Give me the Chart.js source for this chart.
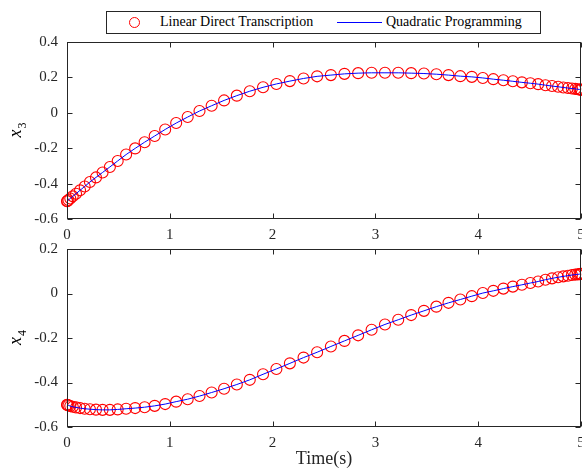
<!DOCTYPE html>
<html>
<head>
<meta charset="utf-8">
<script src="https://cdn.jsdelivr.net/npm/chart.js@4.4.1/dist/chart.umd.min.js"></script>
<style>
  body { margin: 0; background: #fff; }
  #wrap { position: relative; width: 582px; height: 470px; overflow: hidden; font-family: "Liberation Serif", serif; }
  canvas { position: absolute; left: 0; }
  #legend { position: absolute; left: 106px; top: 11px; width: 433px; height: 21px; border: 1px solid #262626; background: #fff; z-index: 5; }
  #legend .mk { position: absolute; left: 22px; top: 5px; width: 9px; height: 9px; border: 1.2px solid #ff0000; border-radius: 50%; }
  #legend .ln { position: absolute; left: 230px; top: 10px; width: 45px; height: 1px; background: #0000ff; }
  #legend .t { position: absolute; top: 2px; font-size: 14px; color: #000; white-space: nowrap; }
</style>
</head>
<body>
<div id="wrap">
  <div id="legend">
    <span class="mk"></span><span class="t" style="left:53px">Linear Direct Transcription</span>
    <span class="ln"></span><span class="t" style="left:279px">Quadratic Programming</span>
  </div>
  <canvas id="top" width="582" height="250" style="top:0;width:582px;height:250px"></canvas>
  <canvas id="bottom" width="582" height="240" style="top:230px;width:582px;height:240px"></canvas>
</div>
<script>
// collocation times (s)
const time = [0, 0.004, 0.014, 0.032, 0.056, 0.088, 0.127, 0.172, 0.223, 0.282,
  0.346, 0.417, 0.493, 0.575, 0.663, 0.755, 0.853, 0.955, 1.062, 1.174,
  1.289, 1.407, 1.528, 1.652, 1.778, 1.907, 2.037, 2.168, 2.301, 2.433,
  2.567, 2.699, 2.832, 2.963, 3.093, 3.222, 3.348, 3.472, 3.593, 3.711,
  3.826, 3.938, 4.045, 4.147, 4.245, 4.337, 4.425, 4.507, 4.583, 4.654,
  4.718, 4.777, 4.828, 4.873, 4.912, 4.944, 4.968, 4.986, 4.996, 5.0];

const x3 = [-0.500, -0.498, -0.493, -0.484, -0.472, -0.457, -0.438, -0.416, -0.391, -0.365,
  -0.337, -0.306, -0.272, -0.236, -0.201, -0.166, -0.131, -0.094, -0.058, -0.024,
  0.010, 0.040, 0.070, 0.097, 0.122, 0.144, 0.163, 0.179, 0.194, 0.206,
  0.213, 0.220, 0.224, 0.226, 0.226, 0.226, 0.224, 0.222, 0.218, 0.213,
  0.207, 0.203, 0.197, 0.190, 0.184, 0.178, 0.172, 0.167, 0.162, 0.156,
  0.151, 0.147, 0.143, 0.140, 0.137, 0.135, 0.133, 0.132, 0.131, 0.130];

const x4 = [-0.500, -0.501, -0.503, -0.506, -0.509, -0.512, -0.515, -0.518, -0.520, -0.522,
  -0.523, -0.523, -0.521, -0.518, -0.515, -0.511, -0.505, -0.497, -0.486, -0.475,
  -0.461, -0.445, -0.428, -0.409, -0.388, -0.363, -0.339, -0.314, -0.288, -0.264,
  -0.238, -0.213, -0.188, -0.163, -0.139, -0.118, -0.097, -0.078, -0.059, -0.042,
  -0.027, -0.012, 0.002, 0.012, 0.022, 0.031, 0.039, 0.047, 0.054, 0.062,
  0.068, 0.073, 0.077, 0.080, 0.083, 0.085, 0.086, 0.087, 0.088, 0.088];

const xTicks = [0, 1, 2, 3, 4, 5];

const axisColor = '#262626';
const tickFont = { family: 'Liberation Serif', size: 15 };

// box + inward tick marks like matlab, plus the rotated y label with subscript
const boxPlugin = {
  id: 'box',
  afterDraw(chart, args, opts) {
    const { ctx, chartArea: a } = chart;
    const xs = chart.scales.x, ys = chart.scales.y;
    const L = Math.round(a.left) + 0.5, R = Math.round(a.right) - 0.5;
    const T = Math.round(a.top) + 0.5, B = Math.round(a.bottom) - 0.5;
    ctx.save();
    ctx.strokeStyle = axisColor;
    ctx.lineWidth = 1;
    ctx.strokeRect(L, T, R - L, B - T);
    ctx.beginPath();
    xs.ticks.forEach(t => {
      const px = Math.round(xs.getPixelForValue(t.value)) + 0.5;
      ctx.moveTo(px, B); ctx.lineTo(px, B - 5);
      ctx.moveTo(px, T); ctx.lineTo(px, T + 5);
    });
    ys.ticks.forEach(t => {
      const py = Math.round(ys.getPixelForValue(t.value)) + 0.5;
      ctx.moveTo(L, py); ctx.lineTo(L + 5, py);
      ctx.moveTo(R, py); ctx.lineTo(R - 5, py);
    });
    ctx.stroke();

    // y label
    const cy = (a.top + a.bottom) / 2;
    ctx.translate(opts.labelX, cy);
    ctx.rotate(-Math.PI / 2);
    ctx.fillStyle = '#000';
    ctx.font = 'italic 18px "Liberation Serif"';
    const w1 = ctx.measureText('x').width;
    ctx.font = '12px "Liberation Serif"';
    const w2 = ctx.measureText(opts.sub).width;
    const x0 = -(w1 + w2) / 2;
    ctx.textBaseline = 'alphabetic';
    ctx.font = 'italic 18px "Liberation Serif"';
    ctx.fillText('x', x0, 4);
    ctx.font = '12px "Liberation Serif"';
    ctx.fillText(opts.sub, x0 + w1 + 1, 9);
    ctx.restore();
  }
};

function makePlot(id, values, yMin, yMax, padTop, xAxisHeight, sub, xTitle) {
  const pts = time.map((t, i) => ({ x: t, y: values[i] }));
  return new Chart(document.getElementById(id), {
    type: 'scatter',
    data: {
      datasets: [
        {
          label: 'Linear Direct Transcription',
          data: pts,
          showLine: false,
          pointStyle: 'circle',
          pointRadius: 5.5,
          pointBorderWidth: 1.1,
          pointBorderColor: '#ff0000',
          pointBackgroundColor: 'rgba(0,0,0,0)',
          clip: false,
          order: 2
        },
        {
          label: 'Quadratic Programming',
          data: pts,
          showLine: true,
          borderColor: '#0000ff',
          borderWidth: 1,
          pointRadius: 0,
          tension: 0,
          order: 1
        }
      ]
    },
    options: {
      responsive: false,
      animation: false,
      events: [],
      layout: { autoPadding: false, padding: { top: padTop, right: 1, left: 0, bottom: 0 } },
      plugins: {
        legend: { display: false },
        tooltip: { enabled: false },
        box: { labelX: 17, sub: sub }
      },
      scales: {
        x: {
          type: 'linear',
          min: 0, max: 5,
          afterBuildTicks: s => { s.ticks = xTicks.map(v => ({ value: v })); },
          ticks: { color: axisColor, font: tickFont, padding: 7, maxRotation: 0 },
          grid: { display: false, drawTicks: false },
          border: { display: false },
          title: {
            display: !!xTitle,
            text: xTitle || '',
            color: axisColor,
            font: { family: 'Liberation Serif', size: 18 },
            padding: { top: 0, bottom: 0 }
          },
          afterFit: s => { s.height = xAxisHeight; s.paddingLeft = 0; s.paddingRight = 0; }
        },
        y: {
          min: yMin, max: yMax,
          ticks: {
            stepSize: 0.2,
            color: axisColor,
            font: tickFont,
            padding: 9,
            callback: v => String(Number(v.toFixed(1)))
          },
          grid: { display: false, drawTicks: false },
          border: { display: false },
          afterFit: s => { s.width = 67; s.paddingTop = 0; s.paddingBottom = 0; }
        }
      }
    },
    plugins: [boxPlugin]
  });
}

makePlot('top', x3, -0.6, 0.4, 42, 31, '3', null);
makePlot('bottom', x4, -0.6, 0.2, 19, 43, '4', 'Time(s)');
</script>
</body>
</html>
